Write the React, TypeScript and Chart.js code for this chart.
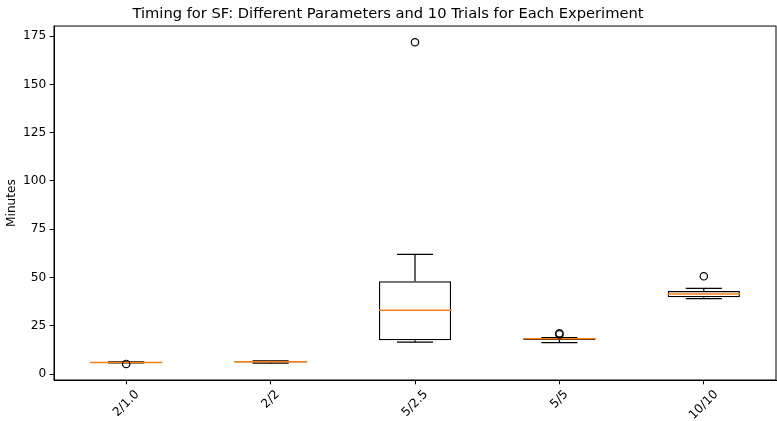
import React, { useEffect, useRef } from "react";
import { Chart, registerables } from "chart.js";

Chart.register(...registerables);

const categories = ["2/1.0", "2/2", "5/2.5", "5/5", "10/10"];
const whiskerLow = [5.7, 5.6, 16.5, 16.3, 39.0];
const q1 = [5.8, 6.0, 17.5, 17.6, 39.8];
const medians = [6.0, 6.4, 33.0, 18.3, 41.4];
const q3 = [6.2, 6.7, 48.0, 18.6, 43.0];
const whiskerHigh = [6.3, 6.8, 62.0, 18.9, 44.3];
const outlierCategories = ["2/1.0", "5/2.5", "5/5", "5/5", "10/10"];
const outlierValues = [5.2, 171.8, 20.5, 21.1, 50.6];
const yTicks = [0, 25, 50, 75, 100, 125, 150, 175];

const FONT = "'DejaVu Sans', sans-serif";
const TICK_SIZE = 12.2;
const LW = 1.2;

const boxPlugin = {
  id: "boxParts",
  afterDatasetDraw(chart: any, args: any) {
    if (args.index !== 0) return;
    const ctx = chart.ctx;
    const x = chart.scales.x;
    const y = chart.scales.y;
    const meta = chart.getDatasetMeta(0);
    ctx.save();
    categories.forEach((_, i) => {
      const cx = x.getPixelForValue(i);
      const bar = meta.data[i];
      const half = bar ? bar.width / 2 : 36;
      const capHalf = half / 2;
      ctx.strokeStyle = "#000";
      ctx.lineWidth = LW;
      ctx.beginPath();
      ctx.moveTo(cx, y.getPixelForValue(q1[i]));
      ctx.lineTo(cx, y.getPixelForValue(whiskerLow[i]));
      ctx.moveTo(cx, y.getPixelForValue(q3[i]));
      ctx.lineTo(cx, y.getPixelForValue(whiskerHigh[i]));
      ctx.stroke();
      ctx.beginPath();
      const yl = y.getPixelForValue(whiskerLow[i]);
      const yh = y.getPixelForValue(whiskerHigh[i]);
      ctx.moveTo(cx - capHalf, yl);
      ctx.lineTo(cx + capHalf, yl);
      ctx.moveTo(cx - capHalf, yh);
      ctx.lineTo(cx + capHalf, yh);
      ctx.stroke();
      ctx.strokeStyle = "#ff7f0e";
      ctx.lineWidth = 1.5;
      ctx.beginPath();
      const ym = y.getPixelForValue(medians[i]);
      ctx.moveTo(cx - half, ym);
      ctx.lineTo(cx + half, ym);
      ctx.stroke();
    });
    ctx.restore();
  },
  afterDraw(chart: any) {
    const ctx = chart.ctx;
    const a = chart.chartArea;
    const x = chart.scales.x;
    ctx.save();
    ctx.strokeStyle = "#000";
    ctx.lineWidth = 1;
    ctx.strokeRect(a.left, a.top, a.right - a.left, a.bottom - a.top);
    ctx.font = `${TICK_SIZE}px ${FONT}`;
    ctx.fillStyle = "#000";
    ctx.textAlign = "center";
    ctx.textBaseline = "middle";
    const c = Math.SQRT1_2;
    categories.forEach((lab, i) => {
      const cx = x.getPixelForValue(i);
      const w = ctx.measureText(lab).width;
      const h = TICK_SIZE * 1.0;
      const H = (w + h) * c;
      const top = a.bottom + 4.3 + 4;
      ctx.save();
      ctx.translate(cx, top + H / 2);
      ctx.rotate(-Math.PI / 4);
      ctx.fillText(lab, 0, 0);
      ctx.restore();
    });
    ctx.restore();
  },
};

export default function App() {
  const ref = useRef<HTMLCanvasElement | null>(null);
  useEffect(() => {
    document.body.style.margin = "0";
    const canvas = ref.current;
    if (!canvas) return;
    const chart = new Chart(canvas, {
      type: "bar",
      data: {
        labels: categories,
        datasets: [
          {
            type: "bar",
            data: q1.map((v, i) => [v, q3[i]]) as any,
            backgroundColor: "rgba(0,0,0,0)",
            borderColor: "#000",
            borderWidth: LW,
            borderSkipped: false,
            categoryPercentage: 1,
            barPercentage: 0.5,
            order: 2,
          } as any,
          {
            type: "line",
            data: outlierCategories.map((c, i) => ({ x: c, y: outlierValues[i] })) as any,
            showLine: false,
            pointRadius: 3.7,
            pointBorderWidth: LW,
            pointBackgroundColor: "rgba(0,0,0,0)",
            pointBorderColor: "#000",
            order: 1,
          } as any,
        ],
      },
      options: {
        responsive: false,
        animation: false,
        layout: { autoPadding: false, padding: { top: 0, right: 1, left: 0, bottom: 0 } },
        plugins: {
          legend: { display: false },
          tooltip: { enabled: false },
          title: {
            display: true,
            text: "Timing for SF: Different Parameters and 10 Trials for Each Experiment",
            color: "#000",
            font: { family: FONT, size: 14.7, weight: "normal" as any, lineHeight: 1.2 },
            padding: { top: 5, bottom: 3.4 },
          },
        },
        scales: {
          x: {
            type: "category",
            offset: true,
            grid: {
              display: true,
              drawOnChartArea: false,
              drawTicks: true,
              tickLength: 4.3,
              color: "#000",
              offset: false,
            },
            border: { display: true, color: "#000" },
            ticks: {
              color: "rgba(0,0,0,0)",
              minRotation: 45,
              maxRotation: 45,
              font: { family: FONT, size: TICK_SIZE },
            },
            afterFit: (s: any) => {
              s.height = 41;
              s.paddingLeft = 0;
              s.paddingRight = 0;
            },
          },
          y: {
            type: "linear",
            min: -3.1,
            max: 180.2,
            afterBuildTicks: (s: any) => {
              s.ticks = yTicks.map((v) => ({ value: v }));
            },
            grid: {
              display: true,
              drawOnChartArea: false,
              drawTicks: true,
              tickLength: 4.3,
              color: "#000",
            },
            border: { display: true, color: "#000" },
            ticks: {
              color: "#000",
              padding: 3.5,
              font: { family: FONT, size: TICK_SIZE },
            },
            title: {
              display: true,
              text: "Minutes",
              color: "#000",
              font: { family: FONT, size: TICK_SIZE },
              padding: { top: 5, bottom: 0 },
            },
            afterFit: (s: any) => {
              s.width = 54;
              s.paddingTop = 0;
              s.paddingBottom = 0;
            },
          },
        },
      },
      plugins: [boxPlugin],
    });
    return () => chart.destroy();
  }, []);
  return <canvas ref={ref} width={777} height={421} style={{ display: "block" }} />;
}
